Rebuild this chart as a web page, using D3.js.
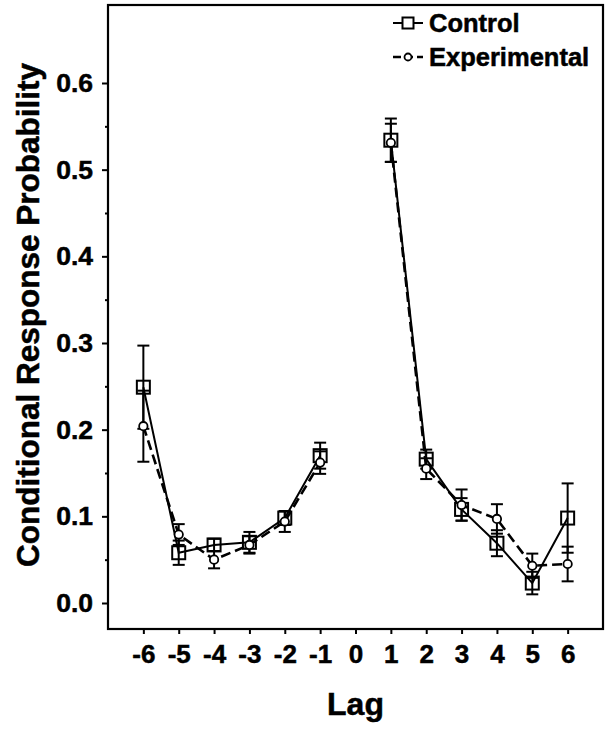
<!DOCTYPE html>
<html>
<head>
<meta charset="utf-8">
<script src="https://cdn.jsdelivr.net/npm/d3@7/dist/d3.min.js"></script>
<style>
  body { margin: 0; background: #fff; }
  svg { display: block; }
  text { font-family: "Liberation Sans", Arial, sans-serif; font-weight: bold; fill: #000; stroke: #000; stroke-width: 0.5px; }
</style>
</head>
<body>
<svg id="chart" width="609" height="730"></svg>
<script>
// ---- data ----
const lags = [-6, -5, -4, -3, -2, -1, 1, 2, 3, 4, 5, 6];
const controlMean = [0.249, 0.058, 0.067, 0.070, 0.098, 0.170, 0.534, 0.166, 0.108, 0.069, 0.023, 0.098];
const controlErr  = [0.048, 0.014, 0.007, 0.012, 0.008, 0.015, 0.025, 0.011, 0.013, 0.015, 0.013, 0.040];
const expMean     = [0.204, 0.079, 0.050, 0.067, 0.094, 0.162, 0.531, 0.155, 0.113, 0.097, 0.043, 0.045];
const expErr      = [0.041, 0.012, 0.010, 0.010, 0.012, 0.013, 0.022, 0.012, 0.018, 0.017, 0.014, 0.020];
const xTicks = [-6, -5, -4, -3, -2, -1, 0, 1, 2, 3, 4, 5, 6];
const yTicks = [0.0, 0.1, 0.2, 0.3, 0.4, 0.5, 0.6];
const yMinorTicks = [0.05, 0.15, 0.25, 0.35, 0.45, 0.55];
const seriesNames = ["Control", "Experimental"];

// ---- layout ----
const W = 609, H = 730;
const m = { left: 108, right: 6, top: 5, bottom: 101 };
const iw = W - m.left - m.right, ih = H - m.top - m.bottom;

const svg = d3.select("#chart");
const g = svg.append("g").attr("transform", `translate(${m.left},${m.top})`);

const x = d3.scaleLinear().domain([-7, 7]).range([0, iw]);
const y = d3.scaleLinear().domain([-0.03, 0.69]).range([ih, 0]);

// axes
const xAxis = g.append("g").attr("transform", `translate(0,${ih})`)
  .call(d3.axisBottom(x).tickValues(xTicks).tickSize(5).tickFormat(d => String(d)));
xAxis.selectAll("text").attr("dy", 0).attr("y", 34).style("font-size", "26px");

const yAxis = g.append("g")
  .call(d3.axisLeft(y).tickValues(yTicks).tickSize(6).tickPadding(9).tickFormat(d3.format(".1f")));
yAxis.selectAll("text").style("font-size", "26.5px");
g.append("g")
  .call(d3.axisLeft(y).tickValues(yMinorTicks).tickSize(3).tickFormat(""));
g.selectAll(".domain").remove();
g.selectAll(".tick line").attr("stroke", "#000").attr("stroke-width", 2);

// frame
g.append("rect").attr("x", 0).attr("y", 0).attr("width", iw).attr("height", ih)
  .attr("fill", "none").attr("stroke", "#000").attr("stroke-width", 2.2);

// titles
svg.append("text").attr("x", m.left + x(0)).attr("y", 715)
  .attr("text-anchor", "middle").style("font-size", "32px").text("Lag");
svg.append("text").attr("transform", `translate(39,${m.top + ih / 2 - 2}) rotate(-90)`)
  .attr("text-anchor", "middle").style("font-size", "31.5px").text("Conditional Response Probability");

// data helpers
function rows(mean, err) {
  return lags.map((l, i) => ({ lag: l, v: mean[i], e: err[i] }));
}
const ctrl = rows(controlMean, controlErr);
const expt = rows(expMean, expErr);

const line = d3.line().x(d => x(d.lag)).y(d => y(d.v));
function segments(data) {
  return [data.filter(d => d.lag < 0), data.filter(d => d.lag > 0)];
}

function errorBars(data, cls) {
  const eb = g.append("g").attr("class", cls).attr("stroke", "#000").attr("stroke-width", 2);
  const cw = 6;
  data.forEach(d => {
    eb.append("line").attr("x1", x(d.lag)).attr("x2", x(d.lag))
      .attr("y1", y(d.v - d.e)).attr("y2", y(d.v + d.e));
    [d.v - d.e, d.v + d.e].forEach(v => {
      eb.append("line").attr("x1", x(d.lag) - cw).attr("x2", x(d.lag) + cw)
        .attr("y1", y(v)).attr("y2", y(v));
    });
  });
}

// error bars
errorBars(expt, "eb-exp");
errorBars(ctrl, "eb-ctrl");

// lines
segments(ctrl).forEach(s => g.append("path").datum(s).attr("d", line)
  .attr("fill", "none").attr("stroke", "#000").attr("stroke-width", 2));
segments(expt).forEach(s => g.append("path").datum(s).attr("d", line)
  .attr("fill", "none").attr("stroke", "#000").attr("stroke-width", 2.6)
  .attr("stroke-dasharray", "10,5"));

// markers
const sq = 13;
g.selectAll(".sq").data(ctrl).enter().append("rect")
  .attr("x", d => x(d.lag) - sq / 2).attr("y", d => y(d.v) - sq / 2)
  .attr("width", sq).attr("height", sq)
  .attr("fill", "none").attr("stroke", "#000").attr("stroke-width", 2);
g.selectAll(".ci").data(expt).enter().append("circle")
  .attr("cx", d => x(d.lag)).attr("cy", d => y(d.v)).attr("r", 4.2)
  .attr("fill", "#fff").attr("stroke", "#000").attr("stroke-width", 1.8);

// legend
const lg = svg.append("g");
const lx0 = 393, lx1 = 423, tx = 429;
const rowsY = [23, 57], baseY = [32, 66];
lg.append("line").attr("x1", lx0).attr("x2", lx1).attr("y1", rowsY[0]).attr("y2", rowsY[0])
  .attr("stroke", "#000").attr("stroke-width", 2);
lg.append("rect").attr("x", (lx0 + lx1) / 2 - 5.5).attr("y", rowsY[0] - 5.5).attr("width", 11).attr("height", 11)
  .attr("fill", "#fff").attr("stroke", "#000").attr("stroke-width", 2);
lg.append("line").attr("x1", lx0).attr("x2", lx1).attr("y1", rowsY[1]).attr("y2", rowsY[1])
  .attr("stroke", "#000").attr("stroke-width", 2.6).attr("stroke-dasharray", "8,4");
lg.append("circle").attr("cx", (lx0 + lx1) / 2).attr("cy", rowsY[1]).attr("r", 3.5)
  .attr("fill", "#fff").attr("stroke", "#000").attr("stroke-width", 1.8);
seriesNames.forEach((n, i) => lg.append("text").attr("x", tx).attr("y", baseY[i])
  .style("font-size", "25.5px").text(n));
</script>
</body>
</html>
